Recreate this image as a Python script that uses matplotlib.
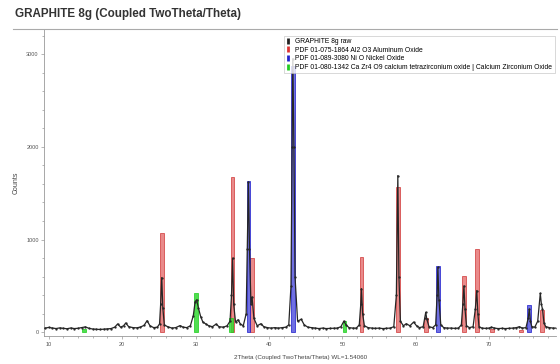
import matplotlib
matplotlib.use("Agg")
import matplotlib.pyplot as plt
from matplotlib.lines import Line2D
from matplotlib.ticker import MultipleLocator

plt.rcParams['font.family'] = ['Liberation Sans', 'DejaVu Sans']

scan_2theta = [9.5, 10, 10.5, 11, 11.5, 12, 12.5, 13, 13.5, 14, 14.5, 15, 15.5, 16, 16.5, 17, 17.5,
               18, 18.5, 19, 19.4, 19.8, 20.2, 20.5, 20.9, 21.5, 22, 22.5, 23, 23.4, 23.8, 24.3,
               24.8, 25.1, 25.25, 25.4, 25.55, 25.75, 26.2, 26.8, 27.3, 27.9, 28.3, 28.8, 29.3,
               29.7, 29.95, 30.15, 30.4, 30.7, 31.0, 31.4, 31.8, 32.3, 32.8, 33.2, 33.8, 34.3,
               34.7, 34.9, 35.05, 35.2, 35.45, 35.8, 36.1, 36.5, 36.9, 37.05, 37.2, 37.35, 37.55,
               37.7, 37.95, 38.4, 38.9, 39.3, 39.8, 40.3, 40.8, 41.3, 41.8, 42.3, 42.7, 43.0, 43.15,
               43.25, 43.4, 43.55, 43.9, 44.4, 44.8, 45.3, 45.8, 46.3, 46.8, 47.3, 47.8, 48.3,
               48.8, 49.3, 49.8, 50.2, 50.5, 50.9, 51.4, 51.9, 52.3, 52.5, 52.6, 52.75, 53.0, 53.5,
               54, 54.5, 55, 55.5, 56, 56.5, 57, 57.35, 57.55, 57.7, 57.9, 58.3, 58.7, 59.2, 59.7,
               60.1, 60.5, 61.0, 61.2, 61.35, 61.5, 61.8, 62.3, 62.7, 62.9, 63.0, 63.15, 63.4,
               63.8, 64.3, 64.8, 65.3, 65.8, 66.2, 66.4, 66.55, 66.7, 66.9, 67.3, 67.8, 68.1,
               68.3, 68.45, 68.6, 69, 69.5, 70, 70.3, 70.7, 71.2, 71.7, 72.2, 72.7, 73.2, 73.7,
               74.1, 74.5, 75, 75.3, 75.45, 75.6, 75.8, 76.2, 76.6, 76.95, 77.1, 77.25, 77.45,
               77.7, 78.2, 78.7, 79.2]
scan_counts = [45, 52, 46, 40, 47, 42, 38, 46, 40, 43, 50, 58, 42, 35, 32, 30, 33,
               36, 40, 55, 90, 55, 70, 100, 60, 50, 48, 56, 75, 125, 70, 50,
               55, 90, 300, 590, 260, 80, 60, 45, 50, 72, 55, 50, 70,
               180, 330, 350, 260, 170, 110, 90, 70, 60, 88, 60, 55, 70,
               120, 400, 800, 300, 110, 135, 90, 70, 200, 900, 1620, 900, 300,
               380, 150, 70, 92, 60, 50, 45, 50, 45, 50, 55, 80, 500, 2000,
               2950, 2000, 600, 120, 140, 80, 55, 50, 45, 40, 45, 40, 42,
               45, 45, 60, 120, 80, 50, 45, 45, 80, 300, 470, 200, 70, 50,
               45, 42, 45, 40, 42, 45, 60, 400, 1690, 600, 120, 70, 92, 70, 110,
               70, 50, 60, 150, 215, 140, 60, 50, 80, 400, 700, 350, 80,
               50, 45, 45, 42, 45, 80, 300, 500, 250, 70, 50, 60, 250,
               450, 200, 60, 45, 42, 45, 55, 45, 40, 42, 40, 42, 45, 50,
               60, 45, 50, 150, 250, 120, 60, 55, 120, 420, 300, 250, 100,
               60, 50, 45, 45]

# reference patterns (stick positions / heights)
al2o3_pos = [25.4, 35.05, 37.7, 52.6, 57.55, 61.35, 66.55, 68.3, 70.4, 74.3, 77.15]
al2o3_h = [1070, 1670, 800, 810, 1570, 150, 610, 900, 30, 25, 240]
nio_pos = [37.2, 43.25, 63.0, 75.45]
nio_h = [1630, 2870, 720, 290]
cazr_pos = [14.8, 30.05, 34.85, 50.25]
cazr_h = [40, 420, 150, 125]

labels = ["GRAPHITE 8g raw",
          "PDF 01-075-1864 Al2 O3 Aluminum Oxide",
          "PDF 01-089-3080 Ni O Nickel Oxide",
          "PDF 01-080-1342 Ca Zr4 O9 calcium tetrazirconium oxide | Calcium Zirconium Oxide"]

fig = plt.figure(figsize=(5.6, 3.64), dpi=100)
ax = fig.add_axes([0.079, 0.077, 0.914, 0.843])

ax.bar(al2o3_pos, al2o3_h, width=0.5, color=(0.88, 0.35, 0.35, 0.7), edgecolor=(0.8, 0.15, 0.15, 0.9), lw=0.5, zorder=2)
ax.bar(nio_pos, nio_h, width=0.5, color=(0.25, 0.25, 0.85, 0.75), edgecolor=(0.1, 0.1, 0.8, 1.0), lw=0.5, zorder=2)
ax.bar(cazr_pos, cazr_h, width=0.45, color=(0.2, 0.85, 0.2, 0.85), edgecolor=(0.1, 0.8, 0.1, 1.0), lw=0.5, zorder=2)
ax.plot(scan_2theta, scan_counts, color='#262626', lw=0.9, marker='.', ms=1.3, zorder=3)

ax.set_xlim(9.4, 79.1)
ax.set_ylim(-40, 3270)
ax.xaxis.set_major_locator(MultipleLocator(10))
ax.xaxis.set_minor_locator(MultipleLocator(2))
ax.yaxis.set_major_locator(MultipleLocator(1000))
ax.yaxis.set_minor_locator(MultipleLocator(200))
for s in ['top', 'right']:
    ax.spines[s].set_visible(False)
for s in ['left', 'bottom']:
    ax.spines[s].set_color('#999999')
    ax.spines[s].set_linewidth(0.6)
ax.tick_params(which='both', colors='#999999', labelcolor='#555555', labelsize=4, width=0.5, pad=1.5)
ax.tick_params(which='major', length=2.5)
ax.tick_params(which='minor', length=1.5)

ax.set_ylabel("Counts", fontsize=5, color='#444444', labelpad=5)
ax.set_xlabel("2Theta (Coupled TwoTheta/Theta) WL=1.54060", fontsize=4.5, color='#444444', labelpad=6)

handles = [Line2D([], [], color=c, marker='|', ls='none', ms=4.5, mew=2)
           for c in ['#222222', '#dd3333', '#2222cc', '#22cc22']]
leg = ax.legend(handles, labels, loc='upper left', bbox_to_anchor=(0.462, 0.99), fontsize=4.9,
                frameon=True, fancybox=False, labelspacing=0.25, handlelength=0.5,
                handletextpad=0.8, borderpad=0.35, edgecolor='#bbbbbb')
leg.get_frame().set_linewidth(0.5)

fig.text(0.027, 0.962, "GRAPHITE 8g (Coupled TwoTheta/Theta)", fontsize=8.4, fontweight='bold',
         color='#333333', va='center', ha='left')
fig.add_artist(Line2D([0.023, 0.995], [0.92, 0.92], color='#aaaaaa', lw=0.8))

fig.savefig("out.png", dpi=100)
